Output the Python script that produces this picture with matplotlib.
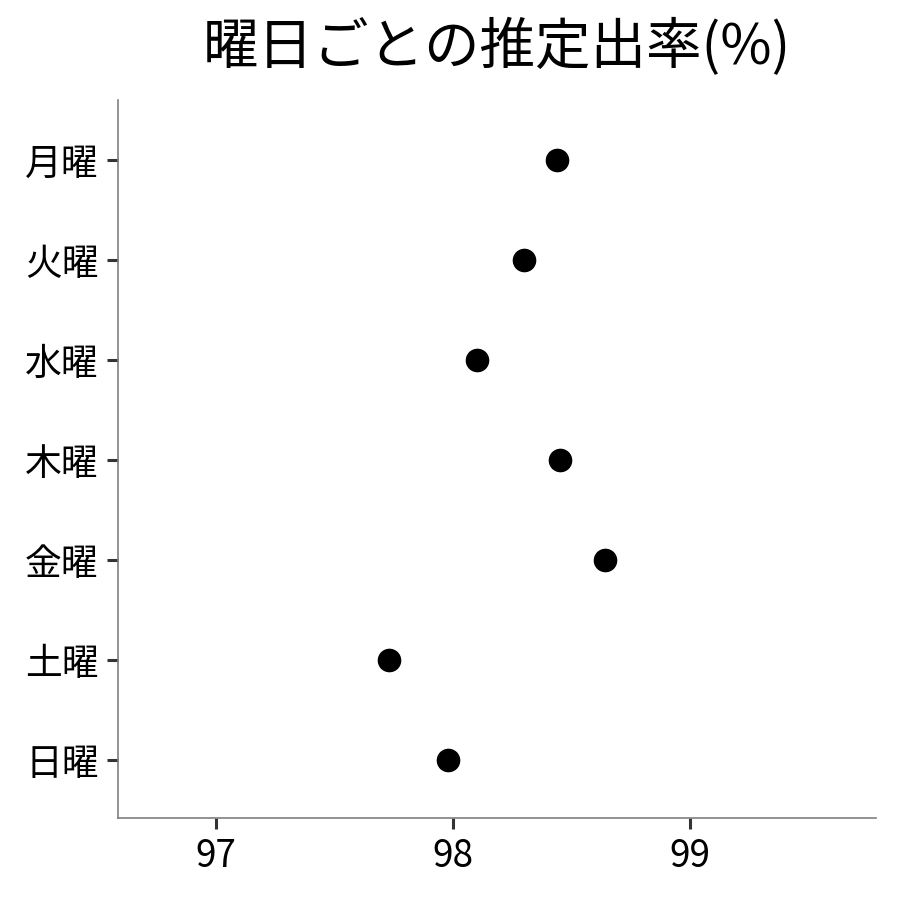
import matplotlib
matplotlib.use("Agg")
import matplotlib.pyplot as plt

plt.rcParams['font.family'] = ['Noto Sans CJK JP', 'DejaVu Sans']

# 曜日ごとの推定出率
days = ['月曜', '火曜', '水曜', '木曜', '金曜', '土曜', '日曜']
rates = [98.44, 98.30, 98.10, 98.45, 98.64, 97.73, 97.98]
xticks = [97, 98, 99]

fig = plt.figure(figsize=(9, 9), dpi=100)
ax = fig.add_axes([0.1311, 0.0911, 0.8422, 0.7978])

ypos = list(range(len(days)))[::-1]
ax.plot(rates, ypos, 'o', color='black', markersize=16, linestyle='none')

ax.set_yticks(ypos)
ax.set_yticklabels(days)
ax.set_xticks(xticks)
ax.set_xlim(96.586, 99.785)
ax.set_ylim(-0.58, 6.6)

for s in ['top', 'right']:
    ax.spines[s].set_visible(False)
for s in ['left', 'bottom']:
    ax.spines[s].set_color('#7f7f7f')
    ax.spines[s].set_linewidth(1.2)

ax.tick_params(axis='both', colors='#333333', labelcolor='black', length=8,
               width=2.2, labelsize=26.5, pad=6)

ax.set_title('曜日ごとの推定出率(%)', fontsize=40, pad=26)

fig.savefig('out.png', dpi=100)
